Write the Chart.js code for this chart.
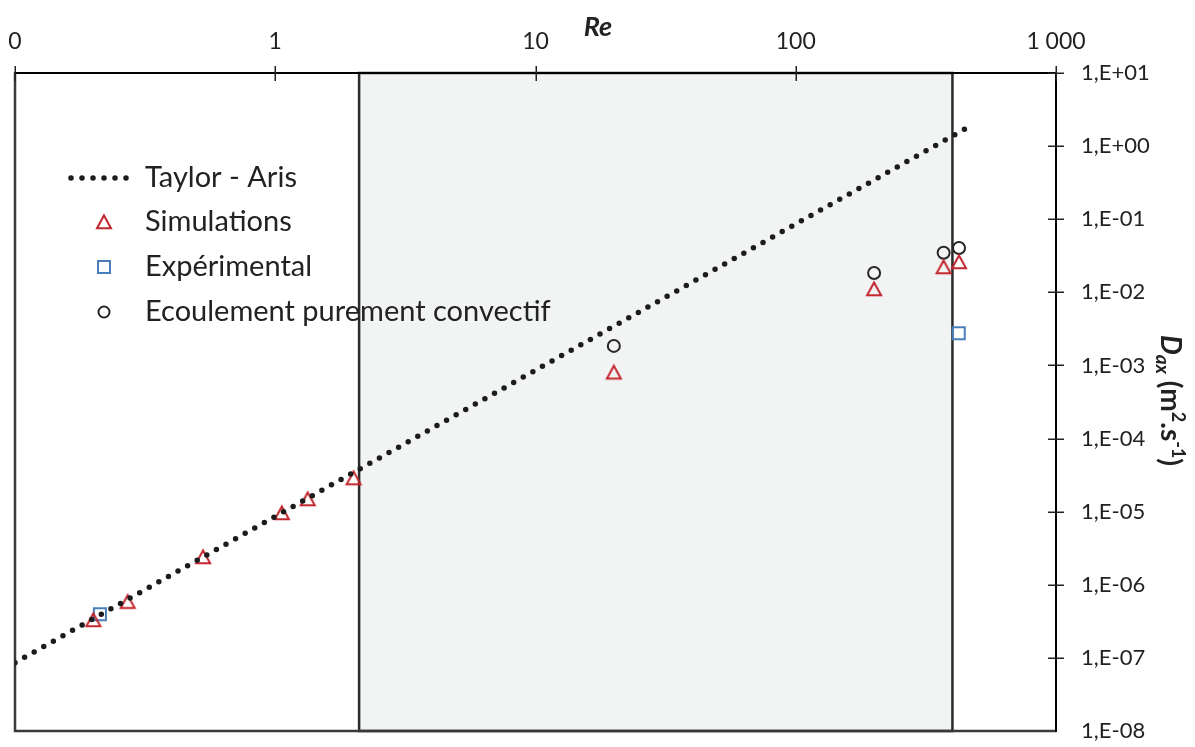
<!DOCTYPE html>
<html lang="fr">
<head>
  <meta charset="UTF-8">
  <title>Dax en fonction de Re</title>
  <script src="https://cdn.jsdelivr.net/npm/chart.js"></script>
  <style>
    html, body {
      margin: 0;
      padding: 0;
      background: #fff;
    }
    #wrap {
      position: relative;
      width: 1195px;
      height: 747px;
    }
  </style>
</head>
<body>

  <div id="wrap"><canvas id="daxChart"></canvas></div>

  <script>
    // graduations
    const xTickValues = [0.1, 1, 10, 100, 1000];
    const xTickLabels = ['0', '1', '10', '100', '1 000'];
    const yTickValues = [1e1, 1e0, 1e-1, 1e-2, 1e-3, 1e-4, 1e-5, 1e-6, 1e-7, 1e-8];
    const yTickLabels = ['1,E+01', '1,E+00', '1,E-01', '1,E-02', '1,E-03', '1,E-04', '1,E-05', '1,E-06', '1,E-07', '1,E-08'];

    // zone grisée (Re)
    const zoneRe = [2.1, 400];

    // Taylor - Aris
    const taylorRe = [0.1, 470];
    const taylorDax = [8.6e-8, 1.9];

    // Simulations
    const simRe = [0.2, 0.271, 0.528, 1.06, 1.333, 2, 20, 200, 370, 424];
    const simDax = [3.3e-7, 5.87e-7, 2.4e-6, 9.6e-6, 1.49e-5, 2.88e-5, 8.05e-4, 0.0111, 0.0222, 0.026];

    // Expérimental
    const expRe = [0.212, 423];
    const expDax = [3.94e-7, 2.75e-3];

    // Ecoulement purement convectif
    const convRe = [20, 200, 370, 424];
    const convDax = [1.85e-3, 0.0184, 0.0348, 0.0404];

    const FONT = 'Lato, "Open Sans", sans-serif';
    const TXT = '#222';

    function pts(xs, ys) {
      return xs.map((x, i) => ({ x: x, y: ys[i] }));
    }

    // triangle dont la boîte est centrée sur le point (comme Excel)
    function makeTriangle() {
      const c = document.createElement('canvas');
      c.width = 20;
      c.height = 20;
      const g = c.getContext('2d');
      g.strokeStyle = '#c4262e';
      g.lineWidth = 2;
      g.beginPath();
      g.moveTo(10, 3.4);
      g.lineTo(17, 16.2);
      g.lineTo(3, 16.2);
      g.closePath();
      g.stroke();
      return c;
    }
    const triImg = makeTriangle();

    function drawRich(ctx, parts) {
      let cx = 0;
      parts.forEach(p => {
        ctx.font = p.f;
        ctx.fillText(p.t, cx, p.dy);
        cx += ctx.measureText(p.t).width;
      });
    }

    // pas de marge automatique autour des axes
    function noPad(s) {
      s.paddingLeft = 0;
      s.paddingRight = 0;
      s.paddingTop = 0;
      s.paddingBottom = 0;
    }

    const decor = {
      id: 'decor',
      beforeDraw(chart) {
        const { ctx, chartArea: a, scales: { x } } = chart;
        const x0 = x.getPixelForValue(zoneRe[0]);
        const x1 = x.getPixelForValue(zoneRe[1]);
        ctx.save();
        ctx.fillStyle = '#f2f4f4';
        ctx.fillRect(x0, a.top, x1 - x0, a.bottom - a.top);
        ctx.strokeStyle = '#2b2b2b';
        ctx.lineWidth = 2.5;
        ctx.strokeRect(x0, a.top, x1 - x0, a.bottom - a.top);
        // cadre gauche et bas
        ctx.strokeStyle = '#3a3a3a';
        ctx.beginPath();
        ctx.moveTo(a.left, a.top);
        ctx.lineTo(a.left, a.bottom);
        ctx.lineTo(a.right, a.bottom);
        ctx.stroke();
        ctx.restore();
      },
      afterDraw(chart) {
        const { ctx, chartArea: a, scales: { x, y } } = chart;
        ctx.save();

        // graduations croisées
        ctx.strokeStyle = TXT;
        ctx.lineWidth = 1.5;
        ctx.beginPath();
        xTickValues.forEach(v => {
          const px = Math.round(x.getPixelForValue(v)) + 0.25;
          ctx.moveTo(px, a.top - 7);
          ctx.lineTo(px, a.top + 8);
        });
        yTickValues.forEach(v => {
          if (v <= y.min) return;
          const py = Math.round(y.getPixelForValue(v)) + 0.25;
          ctx.moveTo(a.right - 8, py);
          ctx.lineTo(a.right + 8, py);
        });
        ctx.stroke();

        // titre axe x
        ctx.fillStyle = TXT;
        ctx.font = 'italic bold 27px ' + FONT;
        ctx.textAlign = 'center';
        ctx.textBaseline = 'middle';
        ctx.fillText('Re', 598, 27);

        // titre axe y
        ctx.save();
        ctx.translate(1161, 335);
        ctx.rotate(Math.PI / 2);
        ctx.textAlign = 'left';
        ctx.textBaseline = 'alphabetic';
        drawRich(ctx, [
          { t: 'D', f: 'italic bold 28px ' + FONT, dy: 0 },
          { t: 'ax', f: 'italic bold 19px ' + FONT, dy: 5 },
          { t: ' (m', f: 'bold 28px ' + FONT, dy: 0 },
          { t: '2', f: 'bold 18px ' + FONT, dy: -11 },
          { t: '.s', f: 'bold 28px ' + FONT, dy: 0 },
          { t: '-1', f: 'bold 18px ' + FONT, dy: -11 },
          { t: ')', f: 'bold 28px ' + FONT, dy: 0 }
        ]);
        ctx.restore();

        // légende
        const ds = chart.data.datasets;
        const mx = 104, tx = 145;
        const rows = [178, 222, 267, 312];
        ctx.font = '29px ' + FONT;
        ctx.textAlign = 'left';
        ctx.textBaseline = 'middle';
        ds.forEach((d, i) => {
          const ry = rows[i];
          ctx.fillStyle = TXT;
          ctx.fillText(d.label, tx, ry);
          if (i === 0) {
            ctx.save();
            ctx.strokeStyle = d.borderColor;
            ctx.lineWidth = d.borderWidth;
            ctx.lineCap = 'round';
            ctx.setLineDash(d.borderDash);
            ctx.beginPath();
            ctx.moveTo(71, ry);
            ctx.lineTo(130, ry);
            ctx.stroke();
            ctx.restore();
          } else if (i === 1) {
            ctx.drawImage(triImg, mx - 10, ry - 10);
          } else if (i === 2) {
            ctx.strokeStyle = d.borderColor;
            ctx.lineWidth = 2;
            ctx.strokeRect(mx - 6, ry - 6, 12, 12);
          } else {
            ctx.strokeStyle = d.borderColor;
            ctx.lineWidth = 2;
            ctx.beginPath();
            ctx.arc(mx, ry, 5.5, 0, Math.PI * 2);
            ctx.stroke();
          }
        });
        ctx.restore();
      }
    };

    const ctx = document.getElementById('daxChart').getContext('2d');
    new Chart(ctx, {
      type: 'scatter',
      data: {
        datasets: [
          {
            label: 'Taylor - Aris',
            data: pts(taylorRe, taylorDax),
            showLine: true,
            pointRadius: 0,
            borderColor: '#1c1c1c',
            borderWidth: 5.5,
            borderDash: [0, 11],
            borderCapStyle: 'round'
          },
          {
            label: 'Simulations',
            data: pts(simRe, simDax),
            pointStyle: triImg,
            pointRadius: 7,
            borderColor: '#c4262e'
          },
          {
            label: 'Expérimental',
            data: pts(expRe, expDax),
            pointStyle: 'rect',
            pointRadius: 8.5,
            borderWidth: 2,
            borderColor: '#4a7ebb',
            backgroundColor: 'rgba(0,0,0,0)'
          },
          {
            label: 'Ecoulement purement convectif',
            data: pts(convRe, convDax),
            pointStyle: 'circle',
            pointRadius: 6,
            borderWidth: 2,
            borderColor: '#262626',
            backgroundColor: 'rgba(0,0,0,0)'
          }
        ]
      },
      options: {
        responsive: true,
        maintainAspectRatio: false,
        animation: false,
        events: [],
        layout: {
          padding: { left: 15, right: 0, top: 0, bottom: 16 }
        },
        scales: {
          x: {
            type: 'logarithmic',
            position: 'top',
            min: 0.1,
            max: 1000,
            afterBuildTicks: s => { s.ticks = xTickValues.map(v => ({ value: v })); },
            afterFit: s => { s.height = 73; noPad(s); },
            grid: { display: false, drawTicks: false },
            border: { display: true, color: '#000', width: 2 },
            ticks: {
              autoSkip: false,
              maxRotation: 0,
              padding: 18,
              color: TXT,
              font: { family: FONT, size: 23 },
              callback: (v, i) => xTickLabels[i]
            }
          },
          y: {
            type: 'logarithmic',
            position: 'right',
            min: 1e-8,
            max: 10,
            afterBuildTicks: s => { s.ticks = yTickValues.map(v => ({ value: v })); },
            afterFit: s => { s.width = 139; noPad(s); },
            grid: { display: false, drawTicks: false },
            border: { display: true, color: '#000', width: 2 },
            ticks: {
              autoSkip: false,
              padding: 25,
              color: TXT,
              font: { family: FONT, size: 22 },
              callback: (v, i) => yTickLabels[i]
            }
          }
        },
        plugins: {
          legend: { display: false },
          tooltip: { enabled: false },
          title: { display: false }
        }
      },
      plugins: [decor]
    });
  </script>

</body>
</html>
